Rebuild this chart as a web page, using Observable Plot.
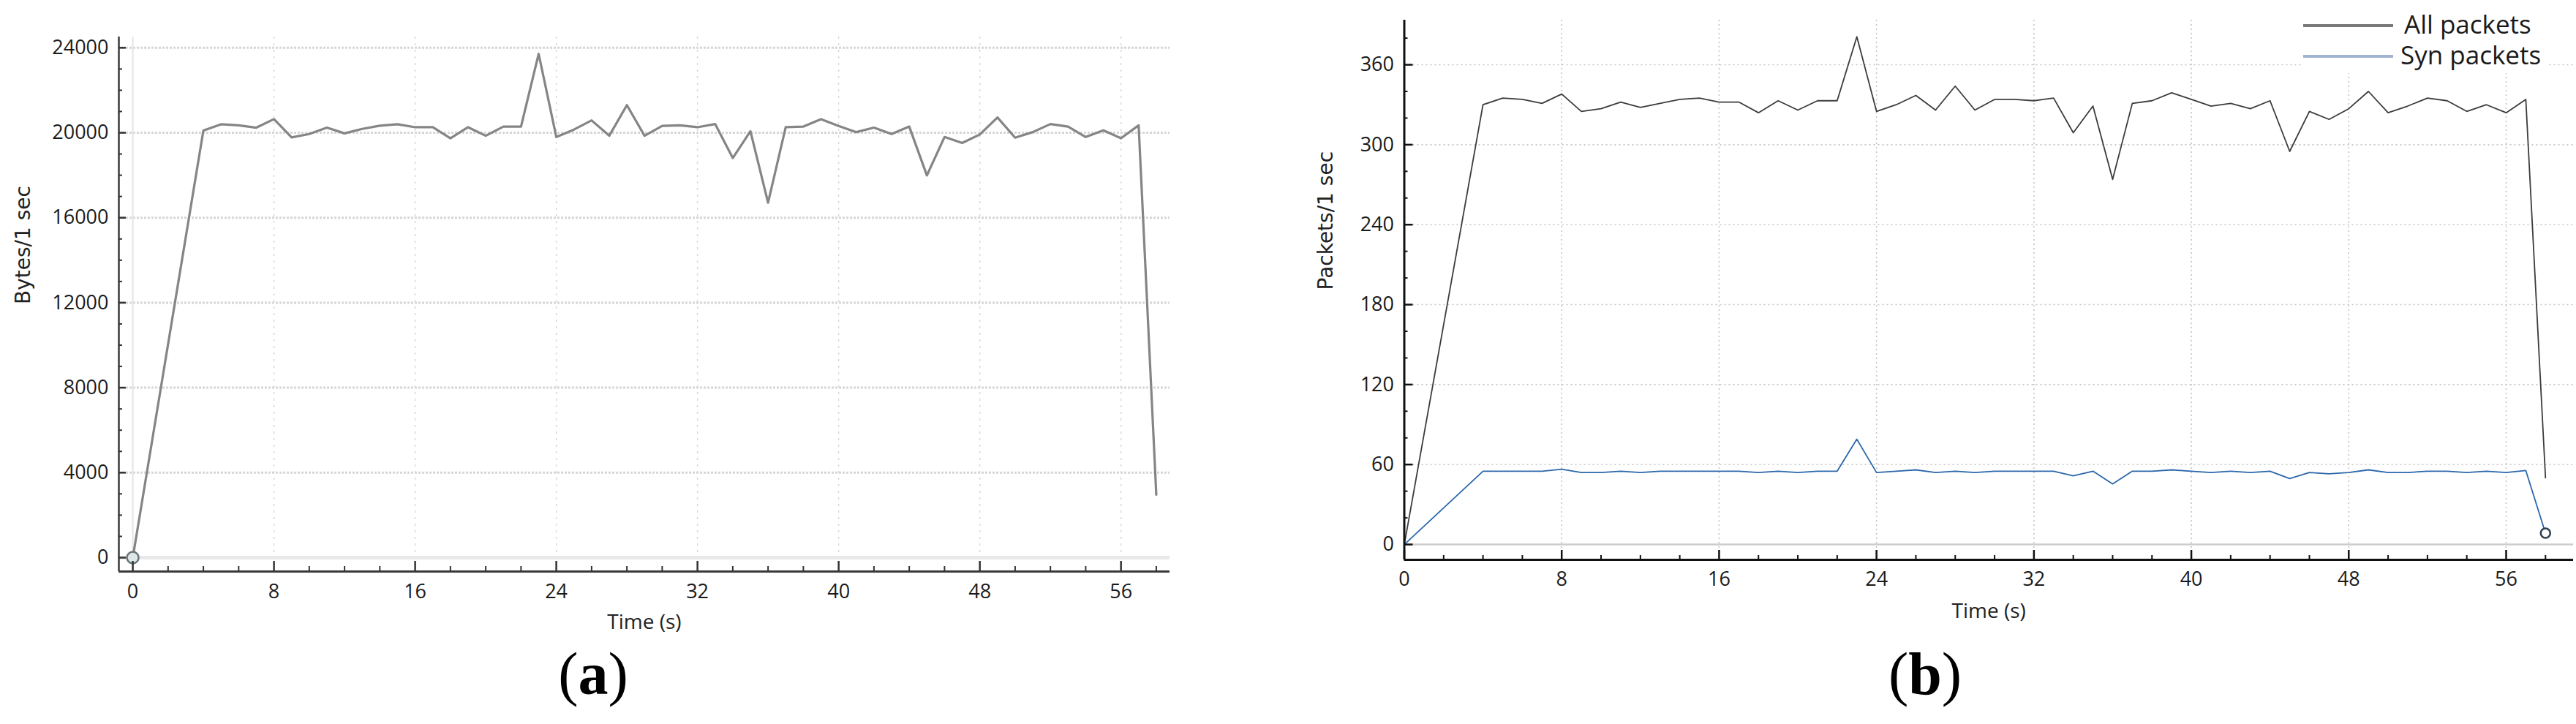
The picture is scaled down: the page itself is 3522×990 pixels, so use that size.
<!DOCTYPE html>
<html>
<head>
<meta charset="utf-8">
<script src="https://cdn.jsdelivr.net/npm/d3@7"></script>
<script src="https://cdn.jsdelivr.net/npm/@observablehq/plot@0.6"></script>
<style>
html, body { margin: 0; padding: 0; background: #fff; }
#fig { position: relative; width: 3522px; height: 990px; overflow: hidden; background: #fff; }
.panel { position: absolute; top: 0; }
.cap { position: absolute; font-family: "Liberation Serif", "DejaVu Serif", serif; font-size: 82px; line-height: 1; color: #000; transform: translate(-50%, -50%); white-space: nowrap; }
.cap b { font-weight: bold; }
.legend { position: absolute; left: 3148px; top: 12px; width: 336px; height: 88px; background: #fff; font-family: "Open Sans", sans-serif; font-size: 35px; color: #1a1a1a; }
.legend .sw { position: absolute; left: 1px; width: 123px; height: 4px; }
.legend .lb { position: absolute; line-height: 1; white-space: nowrap; }
</style>
</head>
<body>
<div id="fig"></div>
<script>
// ---------- data ----------
const timeA = [0, 4, 5, 6, 7, 8, 9, 10, 11, 12, 13, 14, 15, 16, 17, 18, 19, 20, 21, 22, 23, 24, 25, 26, 27, 28, 29, 30, 31, 32, 33, 34, 35, 36, 37, 38, 39, 40, 41, 42, 43, 44, 45, 46, 47, 48, 49, 50, 51, 52, 53, 54, 55, 56, 57, 58];
const bytesPerSec = [0, 20100, 20400, 20350, 20240, 20640, 19780, 19940, 20240, 19970, 20180, 20330, 20400, 20260, 20260, 19740, 20260, 19860, 20290, 20290, 23710, 19800, 20150, 20580, 19860, 21300, 19860, 20320, 20350, 20260, 20410, 18810, 20070, 16710, 20260, 20290, 20640, 20320, 20030, 20240, 19940, 20290, 17990, 19800, 19520, 19920, 20720, 19770, 20030, 20410, 20290, 19800, 20110, 19740, 20350, 2960];

const timeB = timeA;
const allPackets = [0, 330, 335, 334, 331, 338, 325, 327, 332, 328, 331, 334, 335, 332, 332, 324, 333, 326, 333, 333, 381, 325, 330, 337, 326, 344, 326, 334, 334, 333, 335, 309, 329, 274, 331, 333, 339, 334, 329, 331, 327, 333, 295, 325, 319, 327, 340, 324, 329, 335, 333, 325, 330, 324, 334, 50];
const synPackets = [0, 55, 55, 55, 55, 56.5, 54, 54, 55, 54, 55, 55, 55, 55, 55, 54, 55, 54, 55, 55, 79, 54, 55, 56, 54, 55, 54, 55, 55, 55, 55, 51.5, 55, 45.5, 55, 55, 56, 55, 54, 55, 54, 55, 49.5, 54, 53, 54, 56, 54, 54, 55, 55, 54, 55, 54, 55.5, 8.5];

const timeTicks = [0, 8, 16, 24, 32, 40, 48, 56];
const timeMinor = [2, 4, 6, 10, 12, 14, 18, 20, 22, 26, 28, 30, 34, 36, 38, 42, 44, 46, 50, 52, 54, 58];
const bytesTicks = [0, 4000, 8000, 12000, 16000, 20000, 24000];
const bytesMinor = [1000, 2000, 3000, 5000, 6000, 7000, 9000, 10000, 11000, 13000, 14000, 15000, 17000, 18000, 19000, 21000, 22000, 23000];
const packetTicks = [0, 60, 120, 180, 240, 300, 360];
const packetMinor = [20, 40, 80, 100, 140, 160, 200, 220, 260, 280, 320, 340, 380];

const seriesNames = ["All packets", "Syn packets"];
const panelLabels = ["a", "b"];

// ---------- tables ----------
const dataA = timeA.map((t, i) => ({t, v: bytesPerSec[i]}));
const dataAll = timeB.map((t, i) => ({t, v: allPackets[i]}));
const dataSyn = timeB.map((t, i) => ({t, v: synPackets[i]}));

const tickFont = "'Open Sans', 'DejaVu Sans', sans-serif";
const baseStyle = {fontFamily: tickFont, fontSize: "27px", color: "#1a1a1a", background: "transparent", overflow: "visible"};

// ---------- panel (a) ----------
const chartA = Plot.plot({
  width: 1640, height: 860,
  marginLeft: 162, marginRight: 41, marginTop: 50, marginBottom: 79,
  x: {domain: [-0.79, 58.77], label: null},
  y: {domain: [-654, 24510], label: null},
  style: baseStyle,
  marks: [
    Plot.ruleY(bytesTicks.filter(d => d > 0), {stroke: "#d6d6d6", strokeWidth: 3, strokeDasharray: "3,2"}),
    Plot.ruleX(timeTicks.filter(d => d > 0), {stroke: "#d8d8d8", strokeWidth: 1.5, strokeDasharray: "3,6"}),
    Plot.ruleX([0], {stroke: "#e4e4e4", strokeWidth: 2}),
    Plot.ruleY([0], {stroke: "#e8e8e8", strokeWidth: 5}),
    Plot.line(dataA, {x: "t", y: "v", stroke: "#858585", strokeWidth: 3.2, strokeLinejoin: "round"}),
    Plot.dot(dataA.slice(0, 1), {x: "t", y: "v", r: 8, stroke: "#667577", strokeWidth: 2.5, fill: "#dfe6e6"}),
    Plot.ruleX([-0.79], {stroke: "#3a3a3a", strokeWidth: 2.5}),
    Plot.ruleY([-654], {stroke: "#3a3a3a", strokeWidth: 3}),
    Plot.axisY(bytesTicks, {anchor: "left", label: null, tickSize: -10, tickPadding: 24, stroke: "#333", strokeWidth: 2.5, fontSize: 27, tickFormat: d => String(d)}),
    Plot.axisY(bytesMinor, {anchor: "left", label: null, tickSize: -5, tickPadding: 0, stroke: "#333", strokeWidth: 2, tickFormat: () => ""}),
    Plot.axisX(timeTicks, {anchor: "bottom", label: null, tickSize: -14, tickPadding: 31, stroke: "#333", strokeWidth: 2.5, fontSize: 27, tickFormat: d => String(d)}),
    Plot.axisX(timeMinor, {anchor: "bottom", label: null, tickSize: -7, tickPadding: 0, stroke: "#333", strokeWidth: 2, tickFormat: () => ""}),
    Plot.text(["Time (s)"], {text: d => d, frameAnchor: "bottom", dy: 70, fontSize: 28, lineAnchor: "middle", fill: "#222"}),
    Plot.text(["Bytes/1 sec"], {text: d => d, frameAnchor: "left", dx: -130, rotate: -90, fontSize: 28, fontFamily: "'DejaVu Sans', sans-serif", lineAnchor: "middle", fill: "#222", letterSpacing: "1px"})
  ]
});

// ---------- panel (b) ----------
const chartB = Plot.plot({
  width: 1762, height: 860,
  marginLeft: 159.5, marginRight: 4, marginTop: 27, marginBottom: 95,
  x: {domain: [0, 59.42], label: null},
  y: {domain: [-11.5, 393.5], label: null},
  style: baseStyle,
  marks: [
    Plot.ruleY(packetTicks.filter(d => d > 0), {stroke: "#c4c4c4", strokeWidth: 1.6, strokeDasharray: "2,4"}),
    Plot.ruleX(timeTicks.filter(d => d > 0), {stroke: "#c4c4c4", strokeWidth: 1.6, strokeDasharray: "2,4"}),
    Plot.ruleY([0], {stroke: "#cccccc", strokeWidth: 2.5}),
    Plot.line(dataAll, {x: "t", y: "v", stroke: "#3c3c3c", strokeWidth: 1.8}),
    Plot.line(dataSyn, {x: "t", y: "v", stroke: "#2b67ab", strokeWidth: 1.8}),
    Plot.dot(dataSyn.slice(-1), {x: "t", y: "v", r: 6.5, stroke: "#2e3f50", strokeWidth: 2.5, fill: "#ffffff"}),
    Plot.ruleX([0], {stroke: "#111", strokeWidth: 3}),
    Plot.ruleY([-11.5], {stroke: "#111", strokeWidth: 3}),
    Plot.axisY(packetTicks, {anchor: "left", label: null, tickSize: -12, tickPadding: 26, stroke: "#111", strokeWidth: 2.5, fontSize: 27, tickFormat: d => String(d)}),
    Plot.axisY(packetMinor, {anchor: "left", label: null, tickSize: -5, tickPadding: 0, stroke: "#111", strokeWidth: 2, tickFormat: () => ""}),
    Plot.axisX(timeTicks, {anchor: "bottom", label: null, tickSize: -13, tickPadding: 29, stroke: "#111", strokeWidth: 2.5, fontSize: 27, tickFormat: d => String(d)}),
    Plot.axisX(timeMinor, {anchor: "bottom", label: null, tickSize: -6, tickPadding: 0, stroke: "#111", strokeWidth: 2, tickFormat: () => ""}),
    Plot.text(["Time (s)"], {text: d => d, frameAnchor: "bottom", dy: 71, fontSize: 28, lineAnchor: "middle", fill: "#222"}),
    Plot.text(["Packets/1 sec"], {text: d => d, frameAnchor: "left", dx: -106.5, rotate: -90, fontSize: 28, fontFamily: "'DejaVu Sans', sans-serif", lineAnchor: "middle", fill: "#222", letterSpacing: "1px"})
  ]
});

const fig = document.getElementById("fig");
chartA.classList.add("panel"); chartA.style.left = "0px";
chartB.classList.add("panel"); chartB.style.left = "1760px";
fig.appendChild(chartA);
fig.appendChild(chartB);

// legend for panel (b)
const legend = document.createElement("div");
legend.className = "legend";
const swColors = ["#7a7a7a", "#9fb3cf"];
const rowY = [23, 65];
seriesNames.forEach((name, i) => {
  const sw = document.createElement("div");
  sw.className = "sw";
  sw.style.top = (rowY[i] - 2) + "px";
  sw.style.background = swColors[i];
  legend.appendChild(sw);
  const lb = document.createElement("div");
  lb.className = "lb";
  lb.style.left = (i === 0 ? 139 : 134) + "px";
  lb.style.top = (rowY[i] - 20) + "px";
  lb.textContent = name;
  legend.appendChild(lb);
});
fig.appendChild(legend);

// panel captions
const capX = [811, 2632];
panelLabels.forEach((p, i) => {
  const c = document.createElement("div");
  c.className = "cap";
  c.style.left = capX[i] + "px";
  c.style.top = "922px";
  c.innerHTML = "(<b>" + p + "</b>)";
  fig.appendChild(c);
});
</script>
</body>
</html>
